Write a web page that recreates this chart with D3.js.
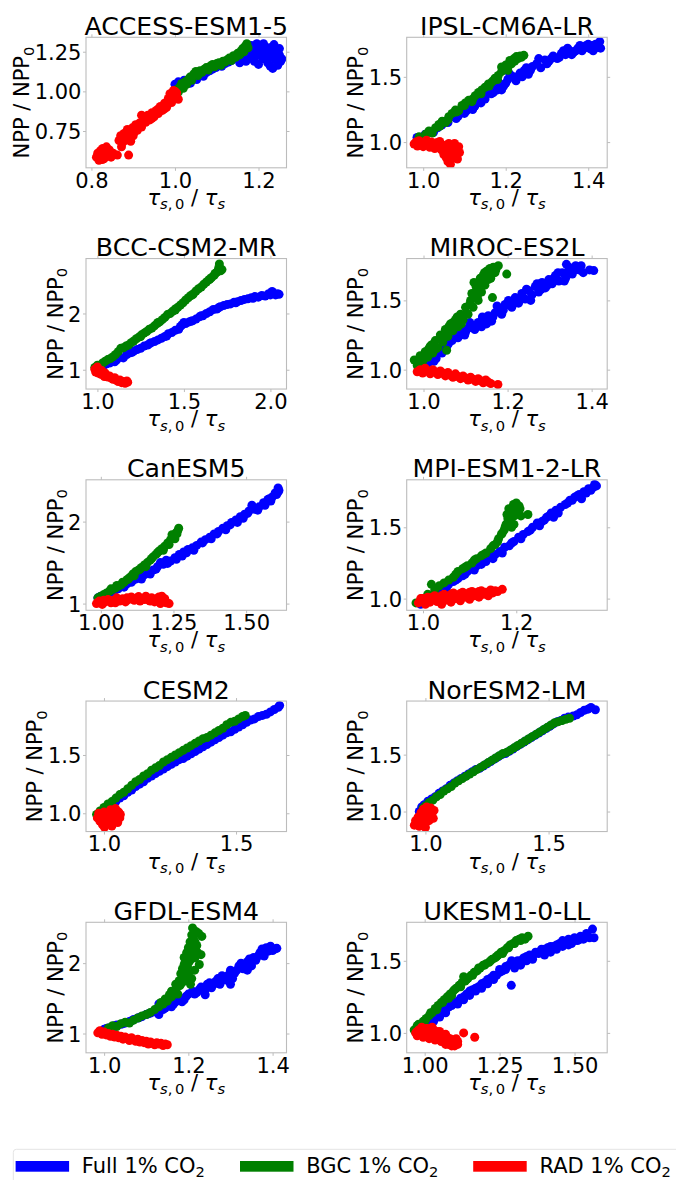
<!DOCTYPE html>
<html>
<head>
<meta charset="utf-8">
<script src="https://cdn.jsdelivr.net/npm/d3@7"></script>
<style>
  html, body { margin: 0; padding: 0; background: #ffffff; }
  svg { display: block; font-family: "DejaVu Sans", "Noto Sans", sans-serif; }
  text { white-space: pre; }
</style>
</head>
<body>
<svg id="fig" width="676" height="1180"></svg>
<script>
// ---- panel setup ----------------------------------------------------------
const models = ["ACCESS-ESM1-5", "IPSL-CM6A-LR", "BCC-CSM2-MR", "MIROC-ES2L", "CanESM5",
                "MPI-ESM1-2-LR", "CESM2", "NorESM2-LM", "GFDL-ESM4", "UKESM1-0-LL"];
const xLimits = [[0.787, 1.267], [0.960, 1.446], [0.934, 2.093], [0.960, 1.437], [0.949, 1.639],
                 [0.965, 1.395], [0.932, 1.691], [0.924, 1.738], [0.957, 1.433], [0.940, 1.609]];
const yLimits = [[0.518, 1.341], [0.803, 1.803], [0.657, 2.976], [0.860, 1.802], [0.918, 2.510],
                 [0.918, 1.833], [0.843, 1.963], [0.824, 1.971], [0.726, 2.580], [0.862, 1.767]];
const xTicks = [[0.8, 1.0, 1.2], [1.0, 1.2, 1.4], [1.0, 1.5, 2.0], [1.0, 1.2, 1.4], [1.00, 1.25, 1.50],
                [1.0, 1.2], [1.0, 1.5], [1.0, 1.5], [1.0, 1.2, 1.4], [1.00, 1.25, 1.50]];
const yTicks = [[0.75, 1.00, 1.25], [1.0, 1.5], [1, 2], [1.0, 1.5], [1, 2],
                [1.0, 1.5], [1.0, 1.5], [1.0, 1.5], [1, 2], [1.0, 1.5]];
const xTickFormats = [".1f", ".1f", ".1f", ".1f", ".2f", ".1f", ".1f", ".1f", ".1f", ".2f"];
const yTickFormats = [".2f", ".1f", "d", ".1f", "d", ".1f", ".1f", ".1f", "d", ".1f"];

const seriesNames = ["Full 1% CO", "BGC 1% CO", "RAD 1% CO"];
const seriesColors = ["#0000ff", "#008000", "#ff0000"];

// ---- NPP/NPP0 against tau_s,0/tau_s, one array of [x, y] per run ----------
const accessFull = [[1.000,1.045],[1.008,1.060],[1.015,1.040],[1.022,1.070],[1.030,1.055],[1.037,1.052],[1.045,1.085],[1.052,1.075],[1.060,1.100],[1.068,1.095],[1.075,1.118],[1.083,1.130],[1.090,1.140],[1.098,1.150],[1.105,1.162],[1.112,1.158],[1.120,1.175],[1.128,1.185],[1.135,1.195],[1.142,1.205],[1.150,1.220],[1.155,1.180],[1.160,1.240],[1.165,1.200],[1.170,1.265],[1.175,1.230],[1.180,1.210],[1.183,1.290],[1.188,1.250],[1.192,1.220],[1.196,1.300],[1.200,1.170],[1.203,1.265],[1.207,1.235],[1.210,1.205],[1.214,1.285],[1.218,1.250],[1.222,1.180],[1.226,1.275],[1.230,1.225],[1.234,1.145],[1.237,1.295],[1.240,1.200],[1.243,1.260],[1.246,1.165],[1.250,1.230],[1.253,1.190],[1.256,1.205],[1.228,1.160],[1.212,1.300],[1.160,1.210],[1.170,1.190],[1.180,1.270],[1.190,1.190],[1.200,1.280],[1.210,1.230],[1.220,1.210],[1.230,1.260],[1.240,1.240],[1.250,1.270],[1.245,1.190],[1.195,1.240]];
const accessBgc = [[0.998,0.985],[1.003,1.010],[1.008,0.995],[1.012,1.030],[1.016,1.050],[1.020,1.020],[1.024,1.060],[1.028,1.045],[1.032,1.075],[1.036,1.090],[1.040,1.070],[1.045,1.110],[1.050,1.125],[1.055,1.100],[1.060,1.130],[1.065,1.120],[1.070,1.140],[1.075,1.150],[1.080,1.135],[1.085,1.160],[1.090,1.170],[1.095,1.155],[1.100,1.175],[1.105,1.180],[1.110,1.165],[1.115,1.190],[1.120,1.185],[1.125,1.200],[1.130,1.210],[1.135,1.195],[1.140,1.225],[1.145,1.215],[1.150,1.240],[1.155,1.230],[1.158,1.255],[1.162,1.270],[1.165,1.250],[1.168,1.285],[1.172,1.300],[1.175,1.275]];
const accessRad = [[0.812,0.585],[0.815,0.610],[0.818,0.565],[0.821,0.625],[0.824,0.595],[0.827,0.640],[0.830,0.575],[0.833,0.615],[0.836,0.650],[0.840,0.600],[0.843,0.630],[0.847,0.585],[0.852,0.610],[0.862,0.598],[0.866,0.690],[0.870,0.720],[0.874,0.675],[0.878,0.735],[0.882,0.705],[0.886,0.760],[0.889,0.598],[0.890,0.725],[0.894,0.685],[0.898,0.770],[0.902,0.740],[0.906,0.790],[0.910,0.755],[0.915,0.800],[0.920,0.775],[0.925,0.830],[0.930,0.805],[0.935,0.850],[0.940,0.820],[0.945,0.865],[0.950,0.840],[0.955,0.880],[0.960,0.860],[0.965,0.905],[0.970,0.880],[0.975,0.925],[0.980,0.900],[0.984,0.955],[0.988,0.985],[0.992,0.930],[0.996,1.005],[1.000,0.965],[1.004,0.990],[1.008,0.950],[0.872,0.650],[0.920,0.850],[0.826,0.570],[0.838,0.635],[0.880,0.690],[0.900,0.720],[0.912,0.780],[0.930,0.830],[0.945,0.830],[0.960,0.890],[0.975,0.890],[0.990,0.960],[1.000,1.000],[0.890,0.740]];

const ipslFull = [[0.985,1.035],[0.995,1.020],[1.005,1.060],[1.015,1.080],[1.025,1.075],[1.035,1.110],[1.045,1.130],[1.055,1.160],[1.065,1.190],[1.075,1.215],[1.085,1.200],[1.095,1.250],[1.105,1.240],[1.115,1.290],[1.125,1.275],[1.135,1.330],[1.145,1.360],[1.155,1.390],[1.165,1.370],[1.175,1.420],[1.185,1.450],[1.195,1.430],[1.205,1.480],[1.215,1.500],[1.225,1.470],[1.235,1.530],[1.245,1.550],[1.255,1.520],[1.265,1.580],[1.275,1.600],[1.285,1.570],[1.295,1.630],[1.305,1.620],[1.315,1.660],[1.325,1.640],[1.335,1.680],[1.345,1.670],[1.355,1.700],[1.365,1.690],[1.375,1.720],[1.385,1.700],[1.395,1.740],[1.405,1.715],[1.412,1.700],[1.418,1.750],[1.424,1.725],[1.428,1.770],[1.140,1.300],[1.190,1.400],[1.060,1.150],[1.080,1.180],[1.100,1.220],[1.120,1.250],[1.130,1.300],[1.150,1.330],[1.160,1.400],[1.170,1.380],[1.180,1.400],[1.200,1.450],[1.210,1.520],[1.220,1.500],[1.240,1.500],[1.250,1.570],[1.260,1.550],[1.280,1.640],[1.300,1.600],[1.310,1.640],[1.330,1.650],[1.340,1.700],[1.360,1.670],[1.370,1.700],[1.390,1.720],[1.400,1.750],[1.410,1.740],[1.430,1.720],[1.380,1.740],[1.350,1.720]];
const ipslBgc = [[0.990,1.040],[0.998,1.020],[1.006,1.060],[1.014,1.085],[1.022,1.070],[1.030,1.110],[1.038,1.135],[1.046,1.160],[1.054,1.150],[1.062,1.195],[1.070,1.220],[1.078,1.245],[1.086,1.240],[1.094,1.280],[1.102,1.300],[1.110,1.320],[1.118,1.310],[1.126,1.355],[1.134,1.380],[1.142,1.400],[1.150,1.420],[1.158,1.445],[1.166,1.460],[1.174,1.490],[1.182,1.510],[1.190,1.540],[1.198,1.560],[1.206,1.580],[1.214,1.600],[1.222,1.620],[1.230,1.640],[1.238,1.650],[1.244,1.665],[1.226,1.655],[1.210,1.625],[1.190,1.575],[1.040,1.120],[1.060,1.170],[1.080,1.230],[1.100,1.280],[1.120,1.330],[1.140,1.370],[1.160,1.430],[1.180,1.480],[1.200,1.590],[1.220,1.640],[1.235,1.660],[1.170,1.470],[1.205,1.550]];
const ipslRad = [[0.978,0.985],[0.982,1.000],[0.986,0.970],[0.990,1.010],[0.995,0.990],[1.000,0.965],[1.004,0.995],[1.008,1.015],[1.012,0.980],[1.016,0.960],[1.020,1.000],[1.024,0.985],[1.028,0.950],[1.032,0.995],[1.036,0.970],[1.040,1.005],[1.044,0.940],[1.048,0.975],[1.050,0.905],[1.053,0.960],[1.056,0.880],[1.058,0.930],[1.060,0.850],[1.062,0.990],[1.064,0.900],[1.066,0.830],[1.068,0.960],[1.070,0.875],[1.073,0.930],[1.076,0.990],[1.078,0.900],[1.081,0.950],[1.083,0.870],[1.086,0.965],[1.088,0.920]];

const bccFull = [[0.990,1.030],[1.010,1.060],[1.030,1.050],[1.050,1.100],[1.070,1.120],[1.090,1.150],[1.110,1.170],[1.130,1.220],[1.150,1.210],[1.170,1.270],[1.190,1.300],[1.210,1.330],[1.230,1.360],[1.250,1.380],[1.270,1.420],[1.290,1.440],[1.310,1.480],[1.330,1.500],[1.350,1.530],[1.370,1.560],[1.390,1.590],[1.410,1.640],[1.430,1.660],[1.450,1.700],[1.470,1.720],[1.490,1.800],[1.510,1.820],[1.530,1.850],[1.550,1.870],[1.570,1.900],[1.590,1.940],[1.610,1.960],[1.630,2.000],[1.650,2.030],[1.670,2.070],[1.690,2.080],[1.710,2.120],[1.730,2.140],[1.750,2.160],[1.770,2.170],[1.790,2.200],[1.810,2.210],[1.830,2.230],[1.850,2.250],[1.870,2.260],[1.890,2.280],[1.910,2.300],[1.930,2.290],[1.950,2.320],[1.970,2.310],[1.990,2.350],[2.010,2.390],[2.030,2.330],[2.050,2.340],[1.100,1.140],[1.200,1.310],[1.300,1.460],[1.400,1.600],[1.480,1.770],[1.500,1.840],[1.540,1.860],[1.600,1.960],[1.700,2.100],[1.800,2.190],[1.900,2.270],[2.000,2.330],[2.040,2.350]];
const bccBgc = [[0.985,1.040],[1.000,1.080],[1.015,1.060],[1.030,1.120],[1.045,1.150],[1.060,1.180],[1.075,1.200],[1.090,1.230],[1.105,1.270],[1.120,1.320],[1.135,1.380],[1.150,1.390],[1.165,1.420],[1.180,1.440],[1.195,1.480],[1.210,1.510],[1.225,1.550],[1.240,1.580],[1.255,1.620],[1.270,1.650],[1.285,1.680],[1.300,1.720],[1.315,1.740],[1.330,1.780],[1.345,1.820],[1.360,1.850],[1.375,1.890],[1.390,1.930],[1.405,1.980],[1.420,2.000],[1.435,2.040],[1.450,2.080],[1.465,2.110],[1.480,2.150],[1.495,2.190],[1.510,2.240],[1.525,2.280],[1.540,2.320],[1.555,2.350],[1.570,2.400],[1.585,2.440],[1.600,2.470],[1.615,2.520],[1.630,2.560],[1.645,2.600],[1.660,2.640],[1.675,2.680],[1.690,2.730],[1.700,2.800],[1.712,2.760],[1.705,2.880],[1.250,1.590],[1.350,1.840],[1.450,2.060],[1.550,2.330],[1.650,2.610],[1.680,2.710],[1.720,2.780]];
const bccRad = [[0.985,1.010],[0.990,0.960],[0.995,1.030],[1.000,0.980],[1.000,1.050],[1.005,0.940],[1.008,0.990],[1.010,1.000],[1.015,0.960],[1.020,0.920],[1.025,0.985],[1.030,0.950],[1.035,0.910],[1.040,0.880],[1.045,0.940],[1.050,0.900],[1.060,0.870],[1.070,0.890],[1.080,0.850],[1.090,0.830],[1.100,0.860],[1.110,0.810],[1.120,0.790],[1.130,0.820],[1.140,0.770],[1.150,0.790],[1.160,0.760],[1.170,0.800],[1.175,0.780]];

const mirocFull = [[1.010,1.040],[1.018,1.080],[1.025,1.060],[1.032,1.110],[1.038,1.150],[1.044,1.120],[1.050,1.200],[1.056,1.170],[1.062,1.240],[1.068,1.210],[1.075,1.260],[1.082,1.230],[1.090,1.280],[1.098,1.250],[1.106,1.300],[1.114,1.320],[1.122,1.290],[1.130,1.340],[1.138,1.310],[1.146,1.360],[1.154,1.390],[1.162,1.350],[1.170,1.410],[1.178,1.440],[1.186,1.400],[1.194,1.470],[1.202,1.500],[1.210,1.450],[1.218,1.520],[1.226,1.480],[1.234,1.550],[1.242,1.510],[1.250,1.570],[1.258,1.540],[1.266,1.600],[1.274,1.560],[1.282,1.630],[1.290,1.590],[1.298,1.650],[1.306,1.620],[1.314,1.680],[1.322,1.640],[1.330,1.700],[1.338,1.660],[1.346,1.740],[1.354,1.690],[1.362,1.750],[1.370,1.720],[1.380,1.700],[1.395,1.720],[1.405,1.715],[1.030,1.080],[1.045,1.160],[1.060,1.190],[1.070,1.230],[1.085,1.250],[1.100,1.270],[1.110,1.340],[1.125,1.310],[1.140,1.380],[1.150,1.330],[1.165,1.380],[1.175,1.460],[1.190,1.430],[1.200,1.470],[1.215,1.490],[1.230,1.510],[1.245,1.580],[1.255,1.500],[1.270,1.620],[1.280,1.580],[1.295,1.610],[1.310,1.660],[1.320,1.700],[1.335,1.640],[1.345,1.710],[1.360,1.720],[1.375,1.750],[1.340,1.760]];
const mirocBgc = [[0.978,1.070],[0.985,1.030],[0.992,1.100],[0.998,1.060],[1.004,1.130],[1.010,1.090],[1.016,1.170],[1.022,1.120],[1.028,1.210],[1.034,1.160],[1.040,1.250],[1.046,1.200],[1.052,1.290],[1.058,1.240],[1.064,1.330],[1.070,1.280],[1.076,1.360],[1.082,1.310],[1.088,1.400],[1.094,1.360],[1.100,1.450],[1.106,1.400],[1.112,1.500],[1.118,1.450],[1.124,1.560],[1.130,1.500],[1.134,1.620],[1.138,1.560],[1.142,1.680],[1.146,1.610],[1.150,1.710],[1.154,1.650],[1.158,1.730],[1.162,1.690],[1.166,1.740],[1.172,1.720],[1.178,1.750],[1.198,1.690],[1.164,1.520],[1.055,1.140],[1.120,1.630],[0.990,1.040],[1.000,1.100],[1.012,1.150],[1.020,1.180],[1.030,1.150],[1.040,1.220],[1.050,1.260],[1.060,1.310],[1.070,1.340],[1.080,1.380],[1.090,1.330],[1.100,1.400],[1.110,1.470],[1.115,1.550],[1.125,1.600],[1.135,1.660],[1.145,1.700],[1.155,1.720],[1.160,1.660],[1.170,1.700],[1.140,1.640],[1.128,1.530]];
const mirocRad = [[0.985,0.985],[0.992,1.000],[0.998,0.975],[1.004,1.010],[1.010,0.990],[1.016,0.970],[1.022,1.000],[1.028,0.985],[1.034,0.965],[1.040,0.990],[1.046,0.975],[1.052,0.955],[1.058,0.980],[1.064,0.960],[1.070,0.945],[1.076,0.970],[1.082,0.950],[1.088,0.935],[1.094,0.955],[1.100,0.940],[1.106,0.925],[1.112,0.945],[1.118,0.930],[1.124,0.915],[1.130,0.935],[1.136,0.920],[1.142,0.905],[1.148,0.925],[1.154,0.910],[1.160,0.900],[1.177,0.893]];

const canesmFull = [[0.990,1.070],[1.000,1.090],[1.010,1.100],[1.020,1.120],[1.030,1.130],[1.045,1.150],[1.060,1.180],[1.075,1.210],[1.090,1.240],[1.105,1.260],[1.120,1.300],[1.135,1.320],[1.150,1.350],[1.165,1.390],[1.180,1.410],[1.195,1.450],[1.205,1.500],[1.215,1.480],[1.225,1.530],[1.240,1.520],[1.255,1.560],[1.270,1.600],[1.285,1.630],[1.300,1.660],[1.315,1.680],[1.330,1.710],[1.345,1.750],[1.360,1.780],[1.375,1.810],[1.390,1.850],[1.405,1.880],[1.420,1.920],[1.435,1.950],[1.450,1.990],[1.465,2.020],[1.480,2.060],[1.495,2.090],[1.510,2.130],[1.520,2.200],[1.530,2.150],[1.545,2.180],[1.560,2.230],[1.575,2.270],[1.590,2.300],[1.600,2.350],[1.610,2.410],[1.613,2.380],[1.585,2.250],[1.050,1.170],[1.080,1.200],[1.110,1.280],[1.140,1.300],[1.170,1.360],[1.190,1.420],[1.230,1.490],[1.260,1.540],[1.280,1.580],[1.295,1.620],[1.320,1.650],[1.350,1.740],[1.380,1.790],[1.400,1.850],[1.430,1.900],[1.445,1.960],[1.470,1.990],[1.490,2.040],[1.505,2.100],[1.540,2.140],[1.565,2.200],[1.580,2.280],[1.605,2.330],[1.610,2.360]];
const canesmBgc = [[0.990,1.070],[1.000,1.090],[1.010,1.110],[1.020,1.130],[1.030,1.150],[1.040,1.170],[1.050,1.190],[1.060,1.210],[1.070,1.230],[1.080,1.260],[1.090,1.290],[1.100,1.320],[1.110,1.360],[1.120,1.390],[1.130,1.410],[1.140,1.440],[1.150,1.470],[1.160,1.500],[1.170,1.530],[1.180,1.570],[1.190,1.600],[1.200,1.640],[1.210,1.670],[1.220,1.700],[1.230,1.740],[1.240,1.780],[1.250,1.820],[1.258,1.860],[1.265,1.890],[1.268,1.920],[1.245,1.840],[1.035,1.180],[1.055,1.220],[1.075,1.260],[1.095,1.300],[1.115,1.340],[1.135,1.420],[1.155,1.450],[1.175,1.550],[1.195,1.620],[1.215,1.650],[1.235,1.720],[1.255,1.790],[1.262,1.850]];
const canesmRad = [[0.985,1.000],[0.995,1.030],[1.005,0.990],[1.015,1.020],[1.025,1.050],[1.035,1.010],[1.045,1.040],[1.055,1.070],[1.065,1.030],[1.075,1.060],[1.085,1.020],[1.095,1.050],[1.105,1.080],[1.115,1.040],[1.125,1.070],[1.135,1.030],[1.145,1.060],[1.155,1.090],[1.165,1.040],[1.175,1.070],[1.185,1.020],[1.195,1.050],[1.205,1.000],[1.210,1.090],[1.215,1.040],[1.225,1.010],[1.235,1.000],[0.990,1.015],[1.010,1.040],[1.030,1.030],[1.050,1.010],[1.070,1.045],[1.090,1.070],[1.110,1.060],[1.130,1.085],[1.150,1.050],[1.170,1.030],[1.190,1.060],[1.200,1.080],[1.220,1.060]];

const mpiFull = [[0.995,0.960],[1.005,0.980],[1.015,1.010],[1.025,1.040],[1.035,1.060],[1.045,1.080],[1.055,1.100],[1.065,1.120],[1.075,1.140],[1.085,1.160],[1.095,1.190],[1.105,1.210],[1.115,1.230],[1.125,1.240],[1.135,1.260],[1.145,1.290],[1.155,1.310],[1.165,1.330],[1.175,1.360],[1.185,1.370],[1.195,1.400],[1.205,1.430],[1.215,1.450],[1.225,1.470],[1.235,1.500],[1.245,1.530],[1.255,1.540],[1.265,1.570],[1.275,1.600],[1.285,1.620],[1.295,1.640],[1.305,1.660],[1.315,1.690],[1.325,1.710],[1.335,1.730],[1.345,1.750],[1.355,1.770],[1.365,1.780],[1.372,1.790],[1.340,1.700],[1.280,1.570],[1.010,0.990],[1.030,1.050],[1.050,1.070],[1.070,1.130],[1.090,1.170],[1.110,1.200],[1.130,1.270],[1.150,1.280],[1.170,1.320],[1.190,1.390],[1.210,1.420],[1.230,1.480],[1.250,1.510],[1.260,1.550],[1.270,1.580],[1.290,1.600],[1.310,1.670],[1.320,1.690],[1.330,1.720],[1.350,1.740],[1.360,1.760],[1.368,1.800]];
const mpiBgc = [[0.985,0.970],[0.998,1.000],[1.010,1.030],[1.018,1.100],[1.025,1.060],[1.035,1.090],[1.045,1.110],[1.055,1.130],[1.065,1.150],[1.075,1.190],[1.085,1.210],[1.095,1.230],[1.105,1.250],[1.115,1.280],[1.125,1.300],[1.135,1.320],[1.145,1.350],[1.155,1.380],[1.162,1.420],[1.168,1.450],[1.174,1.480],[1.178,1.520],[1.182,1.560],[1.186,1.600],[1.190,1.630],[1.194,1.660],[1.198,1.640],[1.202,1.610],[1.206,1.650],[1.210,1.580],[1.185,1.550],[1.225,1.590],[1.195,1.520],[1.170,1.460],[1.176,1.500],[1.180,1.590],[1.184,1.630],[1.188,1.560],[1.192,1.610],[1.196,1.580],[1.200,1.670],[1.204,1.600],[1.208,1.630],[1.190,1.500],[1.160,1.400],[1.150,1.370],[1.130,1.310],[1.110,1.270],[1.090,1.220],[1.070,1.170]];
const mpiRad = [[0.990,0.970],[0.995,1.000],[1.000,0.985],[1.005,0.960],[1.010,1.010],[1.015,0.975],[1.020,0.995],[1.025,1.020],[1.030,0.980],[1.035,1.005],[1.040,0.960],[1.045,1.030],[1.050,0.990],[1.055,1.015],[1.060,0.975],[1.065,1.040],[1.070,1.000],[1.075,1.025],[1.080,0.985],[1.085,1.045],[1.090,1.010],[1.095,1.030],[1.100,0.995],[1.105,1.050],[1.110,1.020],[1.115,1.040],[1.120,1.010],[1.125,1.055],[1.130,1.030],[1.135,1.045],[1.140,1.020],[1.145,1.060],[1.150,1.040],[1.160,1.050],[1.170,1.065],[1.000,1.000],[1.010,0.975],[1.020,1.010],[1.030,0.995],[1.040,1.020],[1.050,1.000],[1.060,1.030],[1.070,1.015],[1.080,1.035],[1.090,1.025],[1.100,1.045],[1.110,1.035],[1.120,1.050],[1.140,1.040],[1.155,1.055]];

const cesmFull = [[0.985,1.000],[1.000,1.030],[1.015,1.060],[1.030,1.080],[1.045,1.100],[1.060,1.130],[1.075,1.150],[1.090,1.180],[1.105,1.200],[1.120,1.230],[1.135,1.250],[1.150,1.270],[1.165,1.300],[1.180,1.320],[1.195,1.340],[1.210,1.360],[1.225,1.380],[1.240,1.400],[1.255,1.420],[1.270,1.440],[1.285,1.460],[1.300,1.470],[1.315,1.490],[1.330,1.510],[1.345,1.530],[1.360,1.550],[1.375,1.570],[1.390,1.590],[1.405,1.610],[1.420,1.630],[1.435,1.650],[1.450,1.670],[1.465,1.690],[1.480,1.700],[1.495,1.720],[1.510,1.740],[1.525,1.760],[1.540,1.780],[1.555,1.800],[1.570,1.810],[1.585,1.830],[1.600,1.840],[1.615,1.850],[1.630,1.870],[1.645,1.890],[1.660,1.910],[1.665,1.925]];
const cesmBgc = [[0.972,0.990],[0.985,1.020],[1.000,1.050],[1.015,1.080],[1.030,1.100],[1.045,1.130],[1.060,1.160],[1.075,1.180],[1.090,1.210],[1.105,1.240],[1.120,1.270],[1.135,1.290],[1.150,1.320],[1.165,1.340],[1.180,1.370],[1.195,1.390],[1.210,1.410],[1.225,1.440],[1.240,1.460],[1.255,1.480],[1.270,1.500],[1.285,1.520],[1.300,1.540],[1.315,1.560],[1.330,1.580],[1.345,1.600],[1.360,1.620],[1.375,1.640],[1.390,1.650],[1.405,1.670],[1.420,1.690],[1.435,1.710],[1.450,1.730],[1.465,1.760],[1.480,1.780],[1.495,1.790],[1.510,1.810],[1.525,1.830],[1.535,1.840]];
const cesmRad = [[0.975,0.960],[0.980,1.000],[0.985,0.930],[0.990,0.980],[0.995,0.900],[1.000,1.010],[1.005,0.950],[1.010,0.920],[1.015,0.990],[1.020,0.960],[1.025,1.030],[1.028,0.900],[1.032,0.970],[1.036,1.000],[1.040,0.940],[1.044,1.040],[1.048,0.980],[1.052,0.920],[1.056,1.010],[1.060,0.960],[1.062,0.990],[1.002,0.880],[1.030,0.890]];

const noresmFull = [[0.975,1.000],[0.985,1.040],[0.995,1.060],[1.010,1.090],[1.025,1.110],[1.040,1.130],[1.055,1.160],[1.070,1.180],[1.085,1.200],[1.100,1.230],[1.115,1.250],[1.130,1.270],[1.145,1.290],[1.160,1.310],[1.175,1.330],[1.190,1.350],[1.205,1.370],[1.220,1.380],[1.235,1.400],[1.250,1.420],[1.265,1.440],[1.280,1.460],[1.295,1.480],[1.310,1.500],[1.325,1.510],[1.340,1.530],[1.355,1.550],[1.370,1.570],[1.385,1.590],[1.400,1.610],[1.415,1.630],[1.430,1.650],[1.445,1.670],[1.460,1.690],[1.475,1.710],[1.490,1.730],[1.505,1.750],[1.520,1.770],[1.535,1.790],[1.550,1.800],[1.565,1.820],[1.580,1.830],[1.600,1.840],[1.615,1.850],[1.630,1.870],[1.645,1.890],[1.660,1.900],[1.672,1.915],[1.690,1.895]];
const noresmBgc = [[0.990,1.030],[1.000,1.050],[1.015,1.080],[1.030,1.100],[1.045,1.130],[1.060,1.150],[1.075,1.180],[1.090,1.200],[1.105,1.220],[1.120,1.250],[1.135,1.270],[1.150,1.290],[1.165,1.310],[1.180,1.330],[1.195,1.350],[1.210,1.370],[1.225,1.390],[1.240,1.410],[1.255,1.430],[1.270,1.450],[1.285,1.470],[1.300,1.490],[1.315,1.510],[1.330,1.520],[1.345,1.540],[1.360,1.560],[1.375,1.580],[1.390,1.600],[1.405,1.620],[1.420,1.640],[1.435,1.660],[1.450,1.680],[1.465,1.700],[1.480,1.720],[1.495,1.740],[1.510,1.760],[1.525,1.780],[1.540,1.790],[1.555,1.800],[1.570,1.810],[1.585,1.820]];
const noresmRad = [[0.955,0.880],[0.960,0.920],[0.965,0.900],[0.970,0.950],[0.975,0.870],[0.978,0.930],[0.982,0.990],[0.985,0.910],[0.988,0.960],[0.992,1.020],[0.995,0.940],[0.998,0.890],[1.002,0.980],[1.005,1.040],[1.008,0.950],[1.012,1.000],[1.015,0.920],[1.018,0.970],[1.022,1.030],[1.025,0.960],[1.028,0.990],[1.032,0.940],[1.035,1.010],[1.000,0.860]];

const gfdlFull = [[0.990,1.030],[1.000,1.060],[1.010,1.080],[1.020,1.090],[1.030,1.120],[1.040,1.130],[1.050,1.150],[1.060,1.170],[1.070,1.200],[1.080,1.220],[1.090,1.240],[1.100,1.270],[1.110,1.290],[1.120,1.310],[1.130,1.270],[1.140,1.340],[1.150,1.400],[1.160,1.380],[1.170,1.450],[1.180,1.500],[1.190,1.480],[1.200,1.560],[1.210,1.600],[1.220,1.580],[1.230,1.660],[1.240,1.620],[1.250,1.720],[1.260,1.700],[1.270,1.780],[1.280,1.820],[1.290,1.760],[1.300,1.900],[1.310,1.860],[1.320,1.960],[1.330,1.920],[1.340,2.020],[1.350,1.960],[1.355,2.080],[1.360,2.040],[1.370,2.150],[1.380,2.100],[1.385,2.220],[1.395,2.240],[1.400,2.180],[1.410,2.210],[1.300,1.700],[1.240,1.550],[1.130,1.420],[1.005,1.070],[1.025,1.110],[1.045,1.140],[1.065,1.180],[1.085,1.230],[1.105,1.280],[1.125,1.330],[1.145,1.360],[1.165,1.420],[1.185,1.450],[1.195,1.530],[1.215,1.560],[1.225,1.620],[1.245,1.700],[1.255,1.650],[1.265,1.740],[1.275,1.700],[1.285,1.800],[1.295,1.830],[1.305,1.780],[1.315,1.900],[1.325,2.000],[1.335,1.950],[1.345,2.060],[1.365,2.100],[1.375,2.200],[1.390,2.170],[1.405,2.200],[1.340,1.900]];
const gfdlBgc = [[1.010,1.080],[1.020,1.110],[1.030,1.100],[1.040,1.140],[1.050,1.160],[1.060,1.150],[1.070,1.190],[1.080,1.220],[1.090,1.250],[1.100,1.270],[1.110,1.300],[1.120,1.340],[1.130,1.380],[1.140,1.420],[1.150,1.460],[1.160,1.520],[1.165,1.580],[1.170,1.620],[1.175,1.560],[1.180,1.680],[1.185,1.720],[1.188,1.800],[1.192,1.760],[1.195,1.880],[1.198,1.950],[1.200,1.850],[1.202,2.020],[1.204,2.100],[1.206,2.180],[1.208,2.060],[1.210,2.260],[1.212,2.350],[1.214,2.420],[1.216,2.300],[1.218,2.450],[1.210,2.500],[1.225,2.420],[1.232,2.380],[1.230,2.120],[1.226,1.980],[1.190,2.080],[1.205,1.700],[1.160,1.600],[1.170,1.700],[1.178,1.750],[1.182,1.850],[1.186,1.920],[1.190,1.980],[1.194,2.020],[1.196,2.150],[1.200,2.220],[1.204,2.300],[1.208,2.400],[1.212,2.200],[1.216,2.080],[1.220,2.250],[1.222,2.150],[1.215,1.900],[1.208,1.780],[1.145,1.490],[1.135,1.440],[1.155,1.550]];
const gfdlRad = [[0.985,1.010],[0.990,1.040],[0.995,0.990],[1.000,1.020],[1.005,0.980],[1.010,1.000],[1.015,0.960],[1.020,0.990],[1.025,0.950],[1.030,0.975],[1.035,0.940],[1.040,0.960],[1.045,0.920],[1.050,0.950],[1.055,0.930],[1.060,0.900],[1.065,0.940],[1.070,0.910],[1.075,0.890],[1.080,0.920],[1.085,0.880],[1.090,0.900],[1.095,0.870],[1.100,0.890],[1.105,0.850],[1.110,0.880],[1.115,0.860],[1.120,0.840],[1.125,0.870],[1.130,0.850],[1.135,0.860],[1.140,0.830],[1.145,0.850],[1.150,0.840]];

const ukesmFull = [[1.010,1.060],[1.020,1.090],[1.030,1.080],[1.040,1.120],[1.050,1.110],[1.060,1.150],[1.070,1.140],[1.080,1.180],[1.090,1.190],[1.100,1.210],[1.110,1.200],[1.120,1.240],[1.130,1.230],[1.140,1.270],[1.150,1.260],[1.160,1.300],[1.170,1.290],[1.180,1.320],[1.190,1.310],[1.200,1.350],[1.210,1.340],[1.220,1.380],[1.230,1.370],[1.240,1.400],[1.250,1.440],[1.260,1.430],[1.270,1.460],[1.280,1.470],[1.289,1.330],[1.300,1.480],[1.310,1.500],[1.320,1.470],[1.330,1.520],[1.340,1.500],[1.350,1.540],[1.360,1.530],[1.370,1.560],[1.380,1.550],[1.390,1.580],[1.400,1.540],[1.410,1.590],[1.420,1.560],[1.430,1.600],[1.440,1.580],[1.450,1.620],[1.460,1.600],[1.470,1.630],[1.480,1.650],[1.490,1.620],[1.500,1.660],[1.510,1.640],[1.520,1.670],[1.530,1.650],[1.540,1.690],[1.550,1.660],[1.560,1.720],[1.565,1.660],[1.030,1.100],[1.050,1.130],[1.070,1.160],[1.090,1.200],[1.110,1.220],[1.130,1.250],[1.150,1.290],[1.170,1.310],[1.190,1.340],[1.210,1.370],[1.230,1.400],[1.250,1.420],[1.270,1.440],[1.290,1.500],[1.300,1.450],[1.320,1.500],[1.340,1.530],[1.360,1.510],[1.380,1.560],[1.400,1.580],[1.420,1.600],[1.440,1.610],[1.460,1.640],[1.480,1.610],[1.500,1.640],[1.520,1.650],[1.545,1.670]];
const ukesmBgc = [[0.965,1.020],[0.975,1.050],[0.985,1.040],[0.995,1.080],[1.005,1.100],[1.015,1.120],[1.025,1.140],[1.035,1.170],[1.045,1.190],[1.055,1.210],[1.065,1.230],[1.075,1.250],[1.085,1.270],[1.095,1.290],[1.105,1.310],[1.115,1.330],[1.125,1.350],[1.135,1.360],[1.145,1.380],[1.155,1.400],[1.165,1.420],[1.175,1.430],[1.185,1.450],[1.195,1.470],[1.205,1.480],[1.215,1.490],[1.225,1.510],[1.235,1.520],[1.245,1.540],[1.255,1.560],[1.265,1.570],[1.275,1.590],[1.285,1.610],[1.295,1.620],[1.305,1.640],[1.315,1.650],[1.325,1.660],[1.345,1.670],[1.130,1.390],[1.090,1.260],[0.980,1.060],[1.000,1.080],[1.020,1.140],[1.040,1.160],[1.060,1.210],[1.080,1.240],[1.100,1.300],[1.120,1.320],[1.140,1.370],[1.160,1.400],[1.180,1.450],[1.200,1.470],[1.220,1.500],[1.240,1.530],[1.260,1.550],[1.280,1.590],[1.300,1.620],[1.320,1.640],[1.335,1.650]];
const ukesmRad = [[0.970,1.000],[0.975,0.980],[0.980,1.020],[0.985,0.990],[0.990,1.040],[0.995,0.970],[1.000,1.010],[1.005,0.980],[1.010,1.030],[1.015,0.960],[1.020,1.000],[1.025,0.970],[1.030,1.020],[1.035,0.950],[1.040,0.990],[1.045,0.960],[1.050,1.010],[1.055,0.940],[1.060,0.980],[1.065,0.950],[1.070,0.920],[1.075,0.970],[1.080,0.940],[1.085,0.960],[1.090,0.910],[1.095,0.950],[1.100,0.930],[1.105,0.960],[1.110,0.920],[1.130,1.000],[1.167,0.970],[0.975,1.010],[0.990,1.000],[1.000,0.990],[1.010,1.010],[1.020,0.980],[1.030,0.960],[1.040,1.010],[1.050,0.970],[1.060,0.950],[1.070,0.990],[1.080,0.920],[1.090,0.940],[1.100,0.910],[1.110,0.940],[1.005,1.030],[1.025,1.040]];

const panelSeries = [
  [accessFull, accessBgc, accessRad], [ipslFull, ipslBgc, ipslRad],
  [bccFull, bccBgc, bccRad], [mirocFull, mirocBgc, mirocRad],
  [canesmFull, canesmBgc, canesmRad], [mpiFull, mpiBgc, mpiRad],
  [cesmFull, cesmBgc, cesmRad], [noresmFull, noresmBgc, noresmRad],
  [gfdlFull, gfdlBgc, gfdlRad], [ukesmFull, ukesmBgc, ukesmRad]
];

// ---- drawing --------------------------------------------------------------
const svg = d3.select("#fig");
const panelW = 200.5, panelH = 130.5;
const colLeft = [86, 406.7];
const rowTop0 = 37.3, rowStep = 221.25;
const fontSize = 21, titleSize = 25.2, subSize = 14.7;
const spineColor = "#bcbcbc";
const markerR = 4.5;

models.forEach((name, i) => {
  const left = colLeft[i % 2];
  const top = rowTop0 + Math.floor(i / 2) * rowStep;
  const bottom = top + panelH, right = left + panelW;

  const x = d3.scaleLinear().domain(xLimits[i]).range([left, right]);
  const y = d3.scaleLinear().domain(yLimits[i]).range([bottom, top]);

  const g = svg.append("g").attr("class", "panel");

  const clipId = "clip" + i;
  g.append("clipPath").attr("id", clipId)
    .append("rect").attr("x", left).attr("y", top).attr("width", panelW).attr("height", panelH);

  const marks = g.append("g").attr("clip-path", `url(#${clipId})`);
  panelSeries[i].forEach((pts, s) => {
    marks.append("g").selectAll("circle").data(pts).join("circle")
      .attr("cx", d => x(d[0]))
      .attr("cy", d => y(d[1]))
      .attr("r", markerR)
      .attr("fill", seriesColors[s]);
  });

  // axes
  const styleAxis = sel => {
    sel.select(".domain").remove();
    sel.selectAll(".tick line").attr("stroke", spineColor).attr("stroke-width", 1);
    sel.selectAll(".tick text").attr("fill", "#000").attr("font-size", fontSize)
      .attr("font-family", "DejaVu Sans");
  };
  g.append("g").attr("transform", `translate(0,${bottom})`)
    .call(d3.axisBottom(x).tickValues(xTicks[i]).tickFormat(d3.format(xTickFormats[i]))
      .tickSize(3).tickPadding(1.8))
    .call(styleAxis);
  g.append("g").attr("transform", `translate(0,${top})`)
    .call(d3.axisTop(x).tickValues(xTicks[i]).tickFormat("").tickSize(3))
    .call(styleAxis);
  const yAxisG = g.append("g").attr("transform", `translate(${left},0)`)
    .call(d3.axisLeft(y).tickValues(yTicks[i]).tickFormat(d3.format(yTickFormats[i]))
      .tickSize(3).tickPadding(1.6))
    .call(styleAxis);
  yAxisG.selectAll(".tick text").attr("dy", "0.36em");
  g.append("g").attr("transform", `translate(${right},0)`)
    .call(d3.axisRight(y).tickValues(yTicks[i]).tickFormat("").tickSize(3))
    .call(styleAxis);

  // frame
  g.append("rect").attr("x", left).attr("y", top).attr("width", panelW).attr("height", panelH)
    .attr("fill", "none").attr("stroke", spineColor).attr("stroke-width", 1.1);

  // title
  g.append("text").attr("x", (left + right) / 2).attr("y", top - 2.4)
    .attr("text-anchor", "middle").attr("font-size", titleSize).attr("fill", "#000")
    .text(name);

  // x label: tau_{s,0} / tau_s
  const xl = g.append("text").attr("x", (left + right) / 2).attr("y", bottom + 37)
    .attr("text-anchor", "middle").attr("font-size", fontSize).attr("fill", "#000");
  xl.append("tspan").attr("font-style", "italic").text("τ");
  xl.append("tspan").attr("font-size", subSize).attr("font-style", "italic").attr("dy", 4.6).text("s");
  xl.append("tspan").attr("font-size", subSize).text(",");
  xl.append("tspan").attr("font-size", subSize).attr("dx", 2.5).text("0");
  xl.append("tspan").attr("dy", -4.6).text(" / ");
  xl.append("tspan").attr("font-style", "italic").text("τ");
  xl.append("tspan").attr("font-size", subSize).attr("font-style", "italic").attr("dy", 4.6).text("s");

  // y label: NPP / NPP_0, set just outside the tick labels
  let minLeft = left;
  yAxisG.selectAll(".tick text").each(function () {
    const b = this.getBBox();
    const tx = d3.select(this.parentNode).attr("transform");
    const m = /translate\(([-\d.]+),/.exec(tx);
    const ox = m ? +m[1] : 0;
    minLeft = Math.min(minLeft, left + ox + b.x);
  });
  const yl = g.append("text")
    .attr("transform", `translate(${minLeft - 5.5},${(top + bottom) / 2}) rotate(-90)`)
    .attr("text-anchor", "middle").attr("font-size", fontSize).attr("fill", "#000");
  yl.append("tspan").text("NPP / NPP");
  yl.append("tspan").attr("font-size", subSize).attr("dy", 4.6).text("0");
});

// ---- legend ---------------------------------------------------------------
const legend = svg.append("g").attr("class", "legend");
legend.append("rect").attr("x", 13.3).attr("y", 1149.3).attr("width", 680).attr("height", 50)
  .attr("rx", 3).attr("fill", "#fff").attr("stroke", "#e4e4e4").attr("stroke-width", 1);
const legendX = [15.6, 240, 473.2];
seriesNames.forEach((label, s) => {
  const lx = legendX[s];
  legend.append("rect").attr("x", lx).attr("y", 1161).attr("width", 53.5).attr("height", 10.7)
    .attr("fill", seriesColors[s]);
  const t = legend.append("text").attr("x", lx + 66.2).attr("y", 1173.3)
    .attr("font-size", fontSize).attr("fill", "#000");
  t.append("tspan").text(label);
  t.append("tspan").attr("font-size", subSize).attr("dy", 3.2).text("2");
});
</script>
</body>
</html>
